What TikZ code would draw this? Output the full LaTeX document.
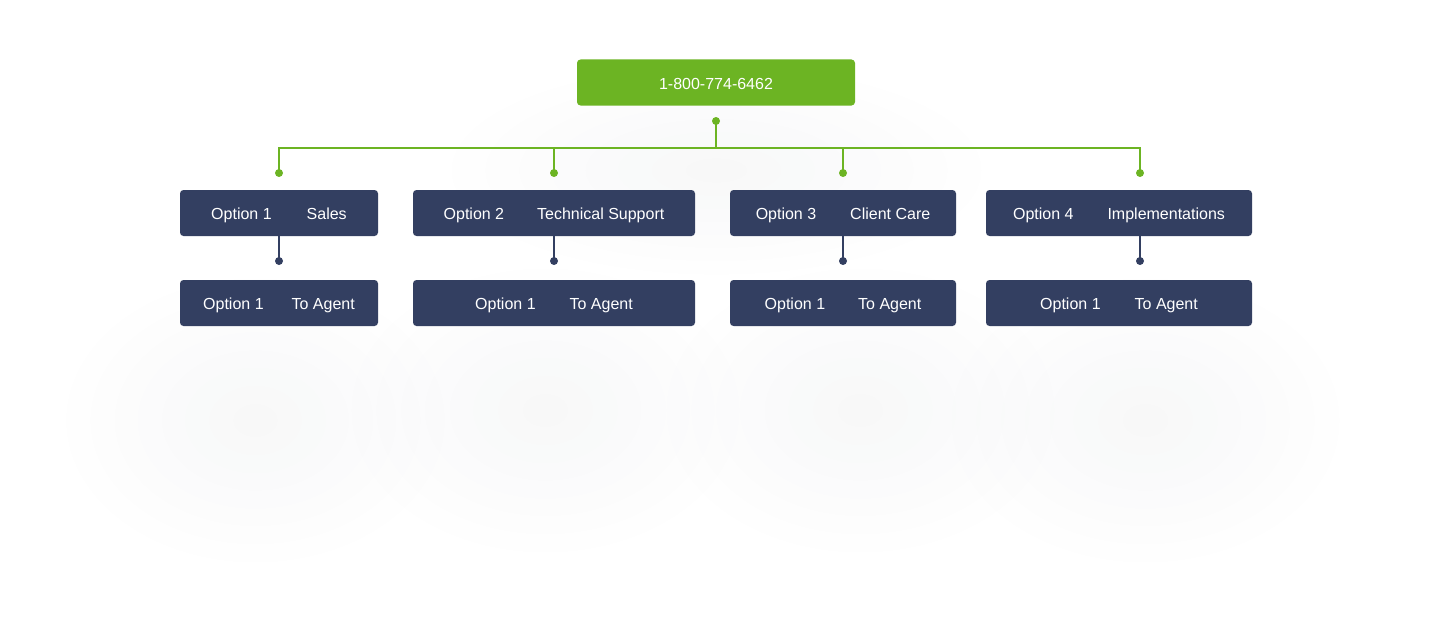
\documentclass[tikz,border=0pt]{standalone}
\usepackage{fontspec}
\setmainfont{Liberation Sans}
\usetikzlibrary{fadings}
\definecolor{navy}{HTML}{333F61}
\definecolor{leaf}{HTML}{6CB423}
\tikzfading[name=softfade, inner color=transparent!35, outer color=transparent!100]
\tikzset{
  navybox/.style={fill=navy, rounded corners=3.5pt, minimum height=46pt, inner sep=0pt,
    text=white, font=\fontsize{16}{19}\selectfont, text height=13.5pt, text depth=0pt},
  greenbox/.style={fill=leaf, rounded corners=3.5pt, minimum height=46pt, minimum width=278pt,
    inner sep=0pt, text=white, font=\fontsize{16}{19}\selectfont, text height=13.5pt, text depth=0pt},
  gdot/.style={circle, fill=leaf, minimum size=8pt, inner sep=0pt},
  ndot/.style={circle, fill=navy, minimum size=8pt, inner sep=0pt},
  gline/.style={draw=leaf, line width=2pt},
  nline/.style={draw=navy, line width=2pt},
  softshadow/.style={fill=black!60!navy, opacity=0.05, path fading=softfade},
}
\begin{document}
\begin{tikzpicture}[x=1pt, y=-1pt]
\useasboundingbox (0,0) rectangle (1432,626);
% soft shadows
\fill[softshadow] (255,420) ellipse (200 and 150);
\fill[softshadow] (545,410) ellipse (205 and 150);
\fill[softshadow] (860,410) ellipse (205 and 150);
\fill[softshadow] (1145,420) ellipse (205 and 150);
\fill[softshadow] (716,170) ellipse (280 and 110);

% top
\node[greenbox] (top) at (716,82.5) {1-800-774-6462};

% row 1
\node[navybox, minimum width=198pt] (b1) at (279,213) {Option 1\hspace{35pt}Sales};
\node[navybox, minimum width=282pt] (b2) at (554,213) {Option 2\hspace{33pt}Technical Support};
\node[navybox, minimum width=226pt] (b3) at (843,213) {Option 3\hspace{34pt}Client Care};
\node[navybox, minimum width=266pt] (b4) at (1119,213) {Option 4\hspace{34pt}Implementations};

% row 2
\node[navybox, minimum width=198pt] (a1) at (279,303) {Option 1\hspace{28pt}To Agent};
\node[navybox, minimum width=282pt] (a2) at (554,303) {Option 1\hspace{34pt}To Agent};
\node[navybox, minimum width=226pt] (a3) at (843,303) {Option 1\hspace{33pt}To Agent};
\node[navybox, minimum width=266pt] (a4) at (1119,303) {Option 1\hspace{34pt}To Agent};

% green connectors
\node[gdot] (g0) at (716,121) {};
\coordinate (hub) at (716,148);
\node[gdot] (g1) at (279,173) {};
\node[gdot] (g2) at (554,173) {};
\node[gdot] (g3) at (843,173) {};
\node[gdot] (g4) at (1140,173) {};
\draw[gline] (g0.center) -- (hub);
\draw[gline] (hub) -| (g1.center);
\draw[gline] (hub) -| (g2.center);
\draw[gline] (hub) -| (g3.center);
\draw[gline] (hub) -| (g4.center);

% navy connectors
\node[ndot] (n1) at (279,261) {};
\node[ndot] (n2) at (554,261) {};
\node[ndot] (n3) at (843,261) {};
\node[ndot] (n4) at (1140,261) {};
\draw[nline] (n1 |- b1.south) -- (n1.center);
\draw[nline] (n2 |- b2.south) -- (n2.center);
\draw[nline] (n3 |- b3.south) -- (n3.center);
\draw[nline] (n4 |- b4.south) -- (n4.center);
\end{tikzpicture}
\end{document}
